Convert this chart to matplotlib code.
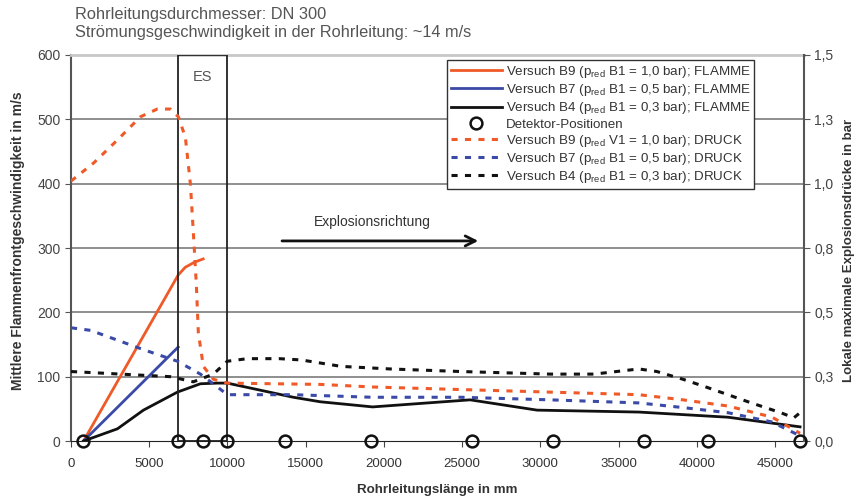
import numpy as np
import matplotlib
matplotlib.use("Agg")
import matplotlib.pyplot as plt
from matplotlib.patches import Rectangle

plt.rcParams["font.family"] = ["Liberation Sans", "DejaVu Sans"]
plt.rcParams["mathtext.default"] = "regular"

# --- data --------------------------------------------------------------------
# flame front velocity (left axis, m/s)
b9_flame_x = [800, 6850, 7300, 7900, 8450]
b9_flame_y = [0, 258, 270, 278, 283]
b7_flame_x = [800, 6850]
b7_flame_y = [0, 146]
b4_flame_x = [800, 2970, 4630, 6800, 8270, 9360, 9990, 12100, 14210, 15930,
              19280, 25510, 29790, 36300, 41990, 46600]
b4_flame_y = [0, 19, 48, 76, 89, 90, 90, 79, 68, 61, 53, 64, 48, 45, 37, 22]

# local max. explosion pressure (right axis, bar)
b9_p_x = [0, 1440, 2970, 4440, 5520, 6350, 6860, 7310, 7630, 7820, 8010, 8140,
          8460, 9100, 9990, 15930, 19250, 24930, 30620, 36300, 39110, 41990,
          44800, 46600]
b9_p_y = [1.01, 1.08, 1.17, 1.26, 1.29, 1.29, 1.26, 1.18, 1.00, 0.81, 0.61, 0.42,
          0.29, 0.24, 0.225, 0.22, 0.21, 0.20, 0.19, 0.18, 0.16, 0.136, 0.093, 0.03]
b7_p_x = [0, 1250, 4630, 6800, 8270, 9360, 9990, 14210, 19250, 24930, 30620,
          36300, 39110, 41990, 44800, 46600]
b7_p_y = [0.44, 0.43, 0.355, 0.31, 0.26, 0.21, 0.18, 0.18, 0.17, 0.17, 0.16,
          0.148, 0.13, 0.11, 0.074, 0.02]
b4_p_x = [0, 6350, 7820, 9100, 9990, 11270, 13320, 14720, 17270, 20400, 24930,
          30620, 33430, 36300, 37450, 39110, 40580, 41990, 43390, 45370, 46200, 46600]
b4_p_y = [0.27, 0.25, 0.23, 0.26, 0.31, 0.32, 0.32, 0.315, 0.29, 0.28, 0.27,
          0.26, 0.26, 0.28, 0.27, 0.24, 0.21, 0.18, 0.15, 0.11, 0.09, 0.11]

detector_x = [750, 6850, 8450, 10000, 13700, 19200, 25600, 30800, 36600, 40700, 46600]

labels = ["Versuch B9 ($p_{red}$ B1 = 1,0 bar); FLAMME",
          "Versuch B7 ($p_{red}$ B1 = 0,5 bar); FLAMME",
          "Versuch B4 ($p_{red}$ B1 = 0,3 bar); FLAMME",
          "Detektor-Positionen",
          "Versuch B9 ($p_{red}$ V1 = 1,0 bar); DRUCK",
          "Versuch B7 ($p_{red}$ B1 = 0,5 bar); DRUCK",
          "Versuch B4 ($p_{red}$ B1 = 0,3 bar); DRUCK"]

x_ticks = list(range(0, 45001, 5000))
y_ticks = list(range(0, 601, 100))
p_ticks = [0, 0.25, 0.5, 0.75, 1.0, 1.25, 1.5]
p_tick_labels = ["0,0", "0,3", "0,5", "0,8", "1,0", "1,3", "1,5"]

ORANGE = "#ef5a28"
BLUE = "#3b4aa6"
BLACK = "#111111"
DASH = (0, (2.0, 2.4))

fig = plt.figure(figsize=(8.67, 4.99), dpi=100)
ax = fig.add_axes([0.0819, 0.1162, 0.8454, 0.7736])
ax2 = ax.twinx()

for v in y_ticks[1:-1]:
    ax.axhline(v, color="#707070", lw=1.1, zorder=0)

h1, = ax.plot(b9_flame_x, b9_flame_y, color=ORANGE, lw=2, zorder=3)
h2, = ax.plot(b7_flame_x, b7_flame_y, color=BLUE, lw=2, zorder=3)
h3, = ax.plot(b4_flame_x, b4_flame_y, color=BLACK, lw=2, zorder=3)

h5, = ax2.plot(b9_p_x, b9_p_y, color=ORANGE, lw=2.2, ls=DASH)
h6, = ax2.plot(b7_p_x, b7_p_y, color=BLUE, lw=2.2, ls=DASH)
h7, = ax2.plot(b4_p_x, b4_p_y, color=BLACK, lw=2.2, ls=DASH)
h4, = ax2.plot(detector_x, np.zeros(len(detector_x)), "o", mfc="none", mec=BLACK,
               ms=8.5, mew=1.8, clip_on=False, zorder=6)

# ES box + arrow
ax.add_patch(Rectangle((6850, 0), 3100, 600, fill=False, edgecolor="#222222",
                       lw=1.3, zorder=4))
ax.text(8400, 566, "ES", ha="center", va="center", color="#555555", fontsize=10.5)
ax.annotate("", xy=(26210, 311), xytext=(13310, 311),
            arrowprops=dict(arrowstyle="->", lw=2, color=BLACK, mutation_scale=18))
ax.text(19250, 340, "Explosionsrichtung", ha="center", va="center",
        color="#333333", fontsize=10)

ax.set_xlim(0, 46850)
ax.set_ylim(0, 600)
ax2.set_ylim(0, 1.5)
ax.set_xticks(x_ticks)
ax.set_xticklabels([str(t) for t in x_ticks])
ax.set_yticks(y_ticks)
ax2.set_yticks(p_ticks)
ax2.set_yticklabels(p_tick_labels)

ax.tick_params(axis="x", length=4, color="#444444", labelsize=9.5,
               labelcolor="#333333", pad=8)
ax.tick_params(axis="y", length=4, color="#555555", labelsize=10, labelcolor="#444444")
ax2.tick_params(axis="y", length=4, color="#555555", labelsize=10, labelcolor="#444444")

ax.spines["right"].set_visible(False)
ax.spines["top"].set_color("#c8c8c8")
ax.spines["top"].set_linewidth(2)
ax.spines["left"].set_color("#555555")
ax.spines["left"].set_linewidth(1.5)
ax.spines["bottom"].set_color("#222222")
for s in ("left", "top", "bottom"):
    ax2.spines[s].set_visible(False)
ax2.spines["right"].set_color("#555555")
ax2.spines["right"].set_linewidth(1.5)

leg = ax2.legend([h1, h2, h3, h4, h5, h6, h7], labels, loc="upper left",
                 bbox_to_anchor=(0.5156, 0.8798), bbox_transform=fig.transFigure,
                 fontsize=9.6, frameon=True, fancybox=False, framealpha=1,
                 edgecolor="#333333", borderaxespad=0, borderpad=0.3,
                 labelspacing=0.16, handlelength=3.8, handletextpad=0.3)
leg.get_frame().set_linewidth(1)
for t in leg.get_texts():
    t.set_color("#333333")

fig.text(0.0865, 0.970, "Rohrleitungsdurchmesser: DN 300", va="center",
         fontsize=11.8, color="#555555")
fig.text(0.0865, 0.934, "Strömungsgeschwindigkeit in der Rohrleitung: ~14 m/s",
         va="center", fontsize=11.8, color="#555555")
fig.text(0.504, 0.018, "Rohrleitungslänge in mm", ha="center", va="center",
         fontsize=9.6, fontweight="bold", color="#333333")
fig.text(0.021, 0.517, "Mittlere Flammenfrontgeschwindigkeit in m/s", rotation=90,
         ha="center", va="center", fontsize=10, fontweight="bold", color="#333333")
fig.text(0.979, 0.499, "Lokale maximale Explosionsdrücke in bar", rotation=90,
         ha="center", va="center", fontsize=9.5, fontweight="bold", color="#333333")

fig.savefig("out.png", dpi=100)
